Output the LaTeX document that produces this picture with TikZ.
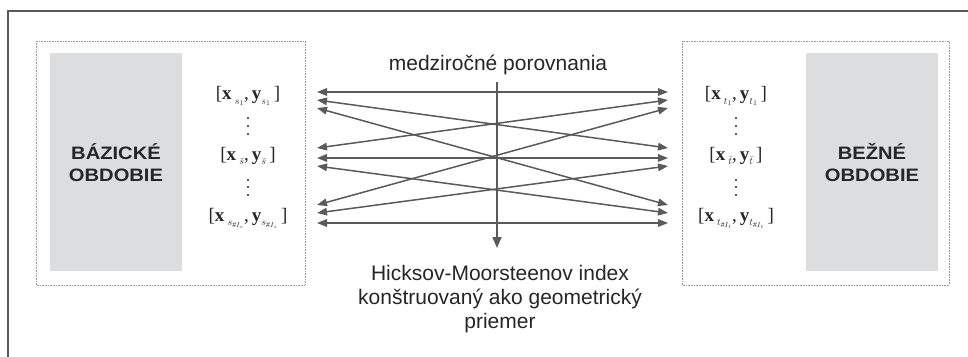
\documentclass[tikz,border=0pt]{standalone}
\usepackage{fontspec}
\setmainfont{Liberation Sans}
\newfontfamily\serifff{Liberation Serif}
\usetikzlibrary{arrows.meta}
\definecolor{linegray}{HTML}{5A5A5A}
\definecolor{boxgray}{HTML}{DCDDDF}
\definecolor{txt}{HTML}{262626}
\definecolor{dotgray}{HTML}{9A9A9A}
\newcommand{\sbs}[1]{\raisebox{-4.5pt}{\fontsize{10}{10}\selectfont$#1$}}
\begin{document}
\begin{tikzpicture}[x=1pt,y=-1pt,
  conn/.style={linegray, line width=1.5pt, {Triangle[length=10pt,width=7.5pt]}-{Triangle[length=10pt,width=7.5pt]}},
  downarrow/.style={linegray, line width=1.5pt, -{Triangle[length=11pt,width=9pt]}},
  dotbox/.style={draw=dotgray, line width=0.6pt, densely dotted},
  graybox/.style={fill=boxgray, draw=none},
  period/.style={font=\fontsize{18}{22}\selectfont\bfseries, text=txt, align=center, xscale=1.12, inner sep=0pt},
  lab/.style={font=\fontsize{19}{21}\selectfont\serifff, text=txt, inner sep=0pt},
  vdot/.style={circle, fill=txt, inner sep=0pt, minimum size=2.4pt},
  plain/.style={font=\fontsize{21}{24}\selectfont, text=txt, align=center, inner sep=0pt}
]
\useasboundingbox (0,0) rectangle (968,356);
\clip (0,0) rectangle (968,356);
\fill[white] (0,0) rectangle (968,356);
\draw[linegray, line width=1.5pt] (8,11) rectangle (990,380);

% boxes
\draw[dotbox] (36,41) rectangle (305,285);
\draw[dotbox] (682,41) rectangle (949,285);
\fill[graybox] (50,53) rectangle (182,271);
\fill[graybox] (806,53) rectangle (938,271);
\node[period] (base) at (116,163) {BÁZICKÉ\\OBDOBIE};
\node[period] (curr) at (872,163) {BEŽNÉ\\OBDOBIE};

% labels left
\node[lab] (s1) at (248,96) {[\textbf{x}\,\sbs{s_1},\,\textbf{y}\sbs{s_1}\,]};
\node[vdot] (d1a) at (248,118) {};
\node[vdot] (d1b) at (248,126) {};
\node[vdot] (d1c) at (248,134) {};
\node[lab] (sb) at (248,156) {[\textbf{x}\,\sbs{\bar s},\,\textbf{y}\sbs{\bar s}\,]};
\node[vdot] (d2a) at (248,180) {};
\node[vdot] (d2b) at (248,187) {};
\node[vdot] (d2c) at (248,195) {};
\node[lab] (sn) at (248,218) {[\textbf{x}\,\sbs{s_{\#I_s}},\,\textbf{y}\sbs{s_{\#I_s}}\,]};
% labels right
\node[lab] (t1) at (736,96) {[\textbf{x}\,\sbs{t_1},\,\textbf{y}\sbs{t_1}\,]};
\node[vdot] (e1a) at (736,118) {};
\node[vdot] (e1b) at (736,126) {};
\node[vdot] (e1c) at (736,134) {};
\node[lab] (tb) at (736,156) {[\textbf{x}\,\sbs{\bar t},\,\textbf{y}\sbs{\bar t}\,]};
\node[vdot] (e2a) at (736,180) {};
\node[vdot] (e2b) at (736,187) {};
\node[vdot] (e2c) at (736,195) {};
\node[lab] (tn) at (736,218) {[\textbf{x}\,\sbs{t_{\#I_t}},\,\textbf{y}\sbs{t_{\#I_t}}\,]};

% arrow end points
\coordinate (La1) at (317,92);  \coordinate (Ra1) at (668,92);
\coordinate (La2) at (317,100); \coordinate (Ra2) at (668,100);
\coordinate (La3) at (317,108); \coordinate (Ra3) at (668,108);
\coordinate (Lb1) at (317,148); \coordinate (Rb1) at (668,148);
\coordinate (Lb2) at (317,158); \coordinate (Rb2) at (668,158);
\coordinate (Lb3) at (317,166); \coordinate (Rb3) at (668,166);
\coordinate (Lc1) at (317,205); \coordinate (Rc1) at (668,205);
\coordinate (Lc2) at (317,213); \coordinate (Rc2) at (668,213);
\coordinate (Lc3) at (317,223); \coordinate (Rc3) at (668,223);

\draw[conn] (La1) -- (Ra1);
\draw[conn] (La2) -- (Rb1);
\draw[conn] (La3) -- (Rc1);
\draw[conn] (Lb1) -- (Ra2);
\draw[conn] (Lb2) -- (Rb2);
\draw[conn] (Lb3) -- (Rc2);
\draw[conn] (Lc1) -- (Ra3);
\draw[conn] (Lc2) -- (Rb3);
\draw[conn] (Lc3) -- (Rc3);

% texts
\node[plain, anchor=base] (top) at (498,70) {medziročné porovnania};
\coordinate (vs) at (497,82);
\coordinate (ve) at (497,248);
\draw[downarrow] (vs) -- (ve);
\node[plain, anchor=base] (bottom) at (500,328) {Hicksov-Moorsteenov index\\konštruovaný ako geometrický\\priemer};
\end{tikzpicture}
\end{document}
